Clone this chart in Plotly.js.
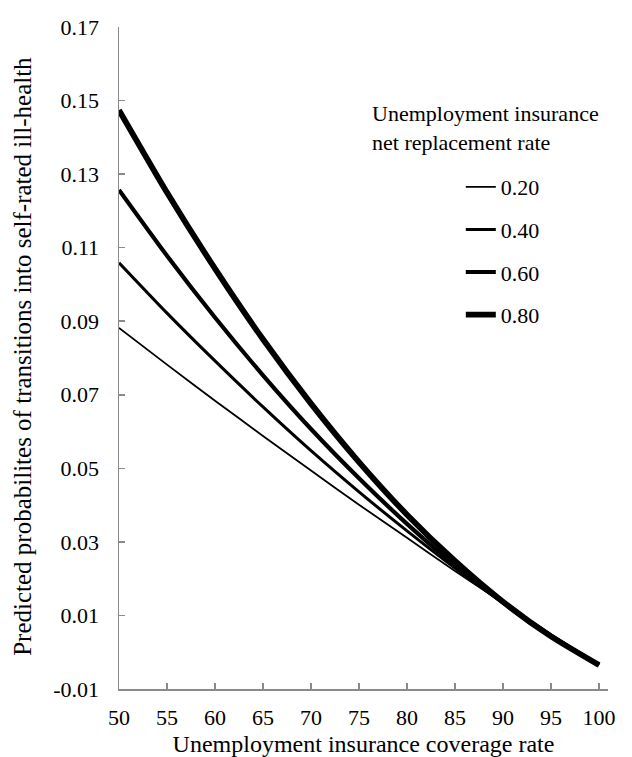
<!DOCTYPE html>
<html>
<head>
<meta charset="utf-8">
<script src="https://cdn.plot.ly/plotly-3.0.1.min.js"></script>
<style>
html,body{margin:0;padding:0;background:#fff;}
#chart{width:632px;height:757px;}
</style>
</head>
<body>
<div id="chart"></div>
<script>
// Data
const coverage = [50, 55, 60, 65, 70, 75, 80, 85, 90, 95, 100];
const rr020 = [0.0882, 0.0782, 0.0684, 0.0588, 0.0494, 0.0401, 0.0311, 0.0221, 0.0134, 0.0049, -0.0035];
const rr040 = [0.1059, 0.0922, 0.0792, 0.0667, 0.0548, 0.0436, 0.0330, 0.0229, 0.0135, 0.0047, -0.0035];
const rr060 = [0.1257, 0.1078, 0.0910, 0.0753, 0.0607, 0.0473, 0.0349, 0.0236, 0.0135, 0.0044, -0.0035];
const rr080 = [0.1474, 0.1250, 0.1043, 0.0851, 0.0676, 0.0517, 0.0374, 0.0248, 0.0137, 0.0043, -0.0035];
const seriesNames = ["0.20", "0.40", "0.60", "0.80"];
const yTickVals = [-0.01, 0.01, 0.03, 0.05, 0.07, 0.09, 0.11, 0.13, 0.15, 0.17];
const yTickText = ["-0.01", "0.01", "0.03", "0.05", "0.07", "0.09", "0.11", "0.13", "0.15", "0.17"];
const xTickVals = [50, 55, 60, 65, 70, 75, 80, 85, 90, 95, 100];
const xTickText = ["50", "55", "60", "65", "70", "75", "80", "85", "90", "95", "100"];
const xTitle = "Unemployment insurance coverage rate";
const yTitle = "Predicted probabilites of transitions into self-rated ill-health";
const legendTitle = "Unemployment insurance<br>net replacement rate";

const series = [rr020, rr040, rr060, rr080];
const widths = [1.8, 3, 4.2, 5.8];
const FONT = "Liberation Serif, Times New Roman, serif";

const traces = series.map((ys, i) => ({
  type: "scatter",
  mode: "lines",
  x: coverage,
  y: ys,
  name: seriesNames[i],
  legendgroup: "g" + i,
  line: {color: "#000", width: widths[i], shape: "spline", smoothing: 0.6},
  hoverinfo: "skip"
}));

const axisGray = "#8a8a8a";
const layout = {
  width: 632,
  height: 757,
  paper_bgcolor: "#fff",
  plot_bgcolor: "#fff",
  margin: {l: 119, r: 24, t: 27, b: 68, pad: 0},
  font: {family: FONT, color: "#000", size: 22},
  showlegend: true,
  legend: {
    x: 0.699, xanchor: "left",
    y: 0.79, yanchor: "top",
    bgcolor: "rgba(0,0,0,0)",
    borderwidth: 0,
    font: {family: FONT, size: 22, color: "#000"},
    traceorder: "grouped",
    tracegroupgap: 11
  },
  xaxis: {
    range: [50, 100.94],
    tickvals: xTickVals,
    ticktext: xTickText,
    ticks: "inside",
    ticklen: 6,
    tickwidth: 1.5,
    tickcolor: axisGray,
    showline: true,
    linecolor: axisGray,
    linewidth: 1.5,
    showgrid: false,
    zeroline: false,
    tickfont: {family: FONT, size: 22, color: "#000"},
    ticklabelstandoff: 8,
    title: {text: xTitle, font: {family: FONT, size: 24, color: "#000"}, standoff: 6},
    automargin: false
  },
  yaxis: {
    range: [-0.01, 0.17],
    tickvals: yTickVals,
    ticktext: yTickText,
    ticks: "inside",
    ticklen: 6,
    tickwidth: 1.5,
    tickcolor: axisGray,
    showline: true,
    linecolor: axisGray,
    linewidth: 1.5,
    showgrid: false,
    zeroline: false,
    tickfont: {family: FONT, size: 22, color: "#000"},
    ticklabelstandoff: 14,
    automargin: false
  },
  annotations: [{
    xref: "paper", yref: "paper",
    x: 0.514, y: 0.891,
    xanchor: "left", yanchor: "top",
    align: "left",
    showarrow: false,
    text: legendTitle,
    font: {family: FONT, size: 22, color: "#000"}
  }, {
    xref: "paper", yref: "paper",
    x: -0.196, y: 0.502,
    xanchor: "center", yanchor: "middle",
    textangle: -90,
    showarrow: false,
    text: yTitle,
    font: {family: FONT, size: 25, color: "#000"}
  }]
};

Plotly.newPlot("chart", traces, layout, {displayModeBar: false, staticPlot: true});
</script>
</body>
</html>
